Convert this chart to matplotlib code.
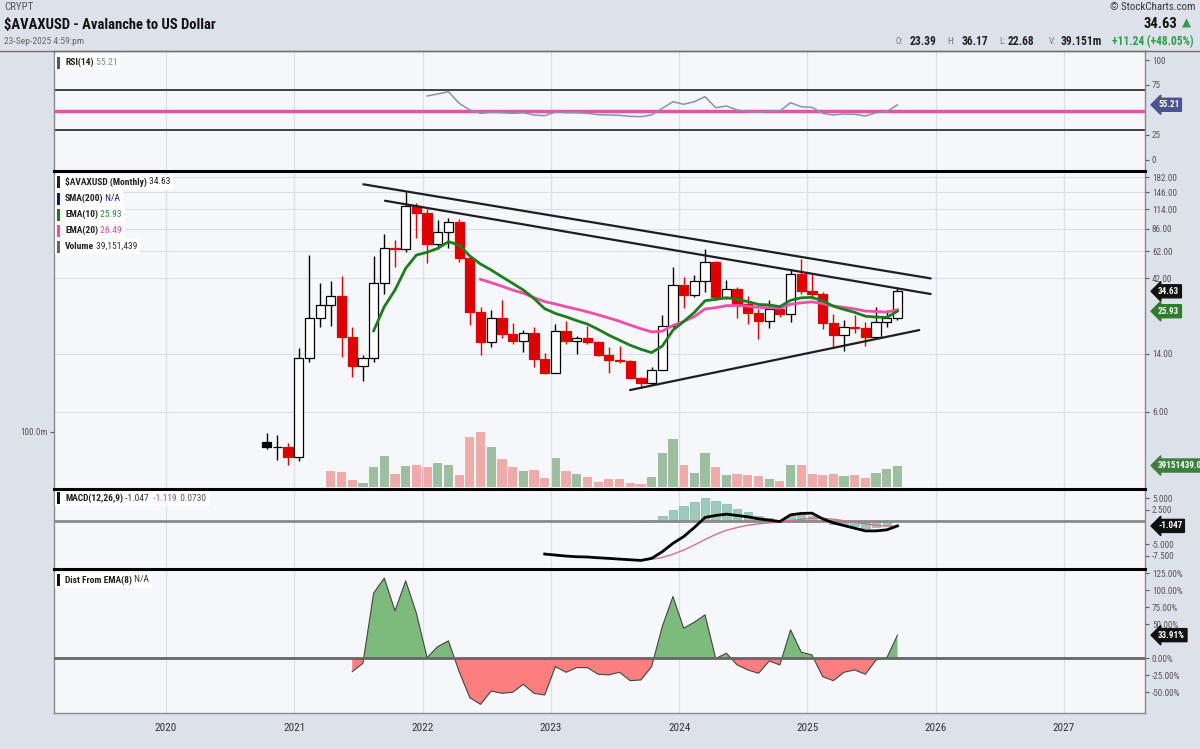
import numpy as np
import matplotlib
matplotlib.use('Agg')
import matplotlib.pyplot as plt
from matplotlib.patches import Rectangle
from matplotlib.lines import Line2D
from matplotlib.ticker import NullLocator
from matplotlib import font_manager
import matplotlib.transforms as mtransforms

# ---------------- data ----------------
start_year, start_month, n_months = 2020, 10, 60   # monthly bars Oct-2020 .. Sep-2025

opens = [3.88, 3.58, 3.60, 3.12, 13.2, 23.4, 28.4, 32.3, 17.7, 11.7,
         13.2, 38.9, 65.3, 63.8, 119.8, 107.7, 68.9, 82.5, 95.4, 55.9,
         25.7, 16.6, 23.4, 18.6, 16.9, 19.0, 12.9, 10.6, 19.5, 16.8,
         17.5, 16.6, 13.8, 12.7, 12.55, 9.75, 9.07, 11.1, 21.0, 37.9,
         32.8, 40.4, 53.3, 31.7, 35.6, 28.8, 25.4, 22.6, 26.7, 24.8,
         44.3, 35.0, 33.3, 21.7, 18.3, 20.5, 20.3, 17.7, 22.3, 23.39]
highs = [4.38, 4.27, 3.82, 15.1, 58.7, 38.9, 40.2, 43.3, 20.7, 13.7,
         57.9, 79.3, 73.1, 147.7, 124.6, 114.0, 97.7, 100.0, 99.0, 58.0,
         27.7, 26.4, 30.5, 21.7, 19.7, 20.5, 14.2, 21.5, 22.6, 18.1,
         21.0, 16.9, 15.5, 15.7, 12.8, 9.99, 11.55, 24.5, 49.5, 42.8,
         43.9, 63.8, 54.0, 40.8, 36.8, 32.3, 26.7, 30.5, 27.7, 47.7,
         55.1, 44.5, 34.4, 24.9, 22.8, 24.5, 22.3, 27.4, 26.4, 36.17]
lows = [3.50, 2.97, 2.76, 2.95, 12.4, 20.7, 20.9, 13.4, 10.0, 9.43,
        12.3, 33.3, 49.5, 61.0, 74.8, 52.0, 64.5, 64.7, 53.2, 21.2,
        13.7, 15.5, 17.5, 16.1, 14.4, 11.5, 10.4, 10.5, 16.2, 13.9,
        16.2, 13.6, 10.5, 12.2, 9.6, 8.43, 8.85, 11.0, 20.5, 27.0,
        31.7, 34.4, 30.5, 31.0, 23.4, 21.5, 17.2, 20.2, 23.9, 22.3,
        33.3, 31.0, 19.9, 15.3, 14.6, 18.8, 15.6, 17.2, 20.5, 22.68]
closes = [3.57, 3.60, 3.12, 13.2, 23.4, 28.4, 32.3, 17.7, 11.7, 13.2,
          38.9, 65.3, 63.8, 119.8, 107.7, 68.9, 82.5, 95.4, 55.9, 25.7,
          16.6, 23.4, 18.6, 16.9, 19.0, 12.9, 10.6, 19.5, 16.8, 17.5,
          16.6, 13.8, 12.7, 12.55, 9.75, 9.07, 11.1, 21.0, 37.9, 32.8,
          40.4, 53.3, 31.7, 35.6, 28.8, 25.4, 22.6, 26.7, 24.8, 44.3,
          35.0, 33.3, 21.7, 18.3, 20.5, 20.3, 17.7, 22.3, 23.39, 34.63]

# volume (millions), starts with bar 7 (Apr-2021)
volume_start = 6
volume_m = [29.3, 26.9, 13.1, 8.3, 35.9, 56.9, 24.5, 38.3, 39.5, 37.1,
            44.3, 40.1, 22.1, 91.1, 100.1, 71.9, 50.3, 35.9, 29.9, 31.1,
            16.1, 52.1, 29.3, 23.9, 19.1, 10.1, 14.9, 14.3, 7.1, 5.9,
            19.1, 61.1, 86.3, 40.1, 26.3, 61.1, 35.9, 22.1, 23.9, 22.1,
            20.3, 14.3, 12.0, 40.1, 40.1, 23.9, 22.1, 23.9, 20.3, 22.1,
            16.1, 26.3, 32.3, 39.15]
volume_up = [0, 0, 0, 1, 1, 1, 0, 1, 0, 0,
             1, 1, 0, 0, 0, 1, 0, 0, 1, 0,
             0, 1, 0, 1, 0, 0, 0, 0, 0, 0,
             1, 1, 1, 0, 1, 1, 0, 1, 0, 0,
             0, 1, 0, 1, 0, 0, 0, 0, 1, 0,
             0, 1, 1, 1]

ema10_start = 10
ema10 = [19.5, 27.7, 35.3, 48.4, 58.7, 61.1, 64.7, 71.3, 67.9, 57.9,
         51.5, 47.2, 42.8, 38.9, 35.3, 31.2, 26.9, 25.1, 23.9, 22.6,
         21.5, 19.9, 18.3, 17.0, 15.8, 14.9, 14.2, 15.6, 19.7, 22.3,
         25.5, 30.2, 30.8, 31.5, 30.9, 29.8, 28.6, 28.4, 27.7, 30.4,
         31.5, 31.7, 30.2, 27.9, 26.6, 25.5, 24.1, 23.8, 23.7, 25.93]
ema20_start = 20
ema20 = [41.2, 39.3, 37.3, 35.3, 33.7, 31.6, 29.8, 28.8, 27.7, 26.7,
         25.7, 24.6, 23.5, 22.4, 21.2, 20.1, 19.2, 19.4, 21.1, 22.3,
         24.0, 26.8, 27.3, 28.1, 28.2, 27.9, 27.4, 27.3, 27.1, 28.7,
         29.3, 29.7, 29.0, 28.0, 27.4, 26.8, 26.0, 25.8, 25.6, 26.49]

rsi_start = 15
rsi14 = [64.0, 66.0, 68.3, 56.7, 50.0, 46.7, 47.7, 47.3, 46.7, 47.3,
         45.0, 44.3, 48.0, 47.3, 47.3, 46.7, 45.3, 45.0, 44.7, 43.7,
         43.3, 45.0, 51.7, 58.3, 55.7, 58.3, 63.3, 52.3, 54.0, 50.0,
         48.3, 47.7, 49.0, 49.0, 57.3, 53.3, 52.7, 46.7, 45.0, 46.0,
         45.7, 44.0, 47.3, 48.3, 55.21]
rsi_mid_line = 48.5

macd_start = 26
macd_line = [-7.16, -7.38, -7.6, -7.75, -7.8, -7.97, -8.1, -8.26, -8.4, -8.55,
             -8.1, -6.65, -4.83, -3.37, -1.4, 0.79, 1.22, 1.51, 1.22, 0.93,
             0.49, 0.2, -0.1, 1.36, 1.66, 1.72, 0.49, -0.38, -0.97, -1.55,
             -2.13, -2.13, -1.9, -1.047]
signal_start = 35
macd_signal = [-8.4, -8.3, -7.9, -7.2, -6.3, -5.2, -4.0, -2.9, -2.0, -1.4,
               -0.9, -0.6, -0.4, -0.2, 0.1, 0.4, 0.6, 0.6, 0.4, 0.1,
               -0.3, -0.6, -0.9, -1.1, -1.119]
macd_hist = [-0.2, 0.3, 1.2, 2.4, 3.3, 4.1, 5.0, 4.3, 3.7, 2.7,
             1.9, 1.0, 0.6, 0.2, 1.2, 1.3, 1.0, 0.1, -0.6, -0.9,
             -1.1, -1.4, -1.2, -0.8, 0.07]

dist_start = 8
dist_ema8 = [-19.7, -7.4, 95.6, 117.6, 69.6, 113.7, 66.2, 0.9, 17.1, 25.4,
             -19.7, -57.9, -67.7, -48.1, -51.5, -50.0, -38.2, -51.5, -54.0, -12.3,
             -20.6, -13.8, -13.8, -23.5, -24.5, -20.6, -32.9, -31.9, -12.3, 46.5,
             90.6, 44.1, 52.9, 63.7, -0.5, 7.4, -9.8, -17.2, -22.1, -4.0,
             -9.8, 41.6, 8.8, 4.9, -27.0, -32.9, -20.6, -17.2, -23.5, -2.5,
             0.5, 33.91]

# user trendlines: (decimal year, price) endpoints
trend_lines = [((2021.538, 164.4), (2025.960, 41.8)),
               ((2021.707, 129.4), (2025.960, 33.3)),
               ((2023.617, 8.23), (2025.871, 19.7))]

price_ticks = [6, 14, 42, 62, 86, 114, 146, 182]
rsi_ticks = [0, 25, 75, 100]
macd_ticks = [5.0, 2.5, -5.0, -7.5]
dist_ticks = [125, 100, 75, 50, 0, -25, -50]
year_ticks = list(range(2020, 2028))

# ---------------- style ----------------
W, H = 1200, 749
BG = '#dde1e9'
PANEL = '#f6f7fb'
GRID = '#dcdfe7'
RED = '#e00000'

names = {f.name for f in font_manager.fontManager.ttflist}
COND = None
for cand in ['Roboto Condensed', 'Liberation Sans Narrow', 'Open Sans Condensed']:
    if cand in names:
        COND = cand
        break
if COND is None:
    COND = 'Roboto' if 'Roboto' in names else 'DejaVu Sans'
plt.rcParams['font.family'] = [COND, 'DejaVu Sans']

fig = plt.figure(figsize=(W / 100, H / 100), dpi=100, facecolor=BG)

def rect(top, bottom):
    return [54 / W, 1 - bottom / H, (1145 - 54) / W, (bottom - top) / H]

XMIN, XMAX = 2019.127, 2027.631

def xpos(idx):
    m = start_month - 1 + idx
    return start_year + m // 12 + (m % 12) / 12.0 + 0.035

xs = np.array([xpos(i) for i in range(n_months)])

ax_rsi = fig.add_axes(rect(51, 170.7))
ax_vol = fig.add_axes(rect(171, 489))
ax_p = fig.add_axes(rect(171, 489))
ax_macd = fig.add_axes(rect(489, 568.5))
ax_dist = fig.add_axes(rect(569, 713))
ax_vol.set_zorder(1)
ax_p.set_zorder(2)
ax_p.patch.set_visible(False)

for ax in [ax_rsi, ax_vol, ax_p, ax_macd, ax_dist]:
    ax.set_xlim(XMIN, XMAX)
    ax.set_facecolor(PANEL)
    for s in ax.spines.values():
        s.set_color('#8a8a8a')
        s.set_linewidth(1.0)
    ax.yaxis.tick_right()
    ax.tick_params(axis='y', labelsize=6.6, colors='#555555', length=3, width=0.8, pad=2)
    ax.set_xticks([])
for ax in [ax_rsi, ax_vol, ax_macd, ax_dist]:
    for yv in year_ticks:
        ax.axvline(yv, color=GRID, lw=0.8, zorder=0)

# ---------------- RSI ----------------
ax_rsi.set_ylim(-10.7, 109)
ax_rsi.set_yticks(rsi_ticks)
ax_rsi.set_yticklabels([str(t) for t in rsi_ticks])
ax_rsi.axhline(70, color='#333333', lw=1.3, zorder=2)
ax_rsi.axhline(30, color='#333333', lw=1.3, zorder=2)
ax_rsi.axhline(rsi_mid_line, color='#e2559f', lw=2.5, zorder=2)
ax_rsi.plot(xs[rsi_start:rsi_start + len(rsi14)], rsi14, color='#8890b5', lw=1.1, zorder=3)

# ---------------- price + volume ----------------
vx = xs[volume_start:volume_start + len(volume_m)]
vcols = ['#9dbfa0' if u else '#efaaaa' for u in volume_up]
ax_vol.bar(vx, volume_m, width=0.072, color=vcols, edgecolor='none', zorder=2)
ax_vol.set_ylim(-3.06, 568.9)
ax_vol.yaxis.tick_left()
ax_vol.set_yticks([100])
ax_vol.set_yticklabels(['100.0m'])
ax_vol.tick_params(axis='y', labelsize=6.6, colors='#555555', length=3, pad=2)
for s in ax_vol.spines.values():
    s.set_visible(False)

ax_p.set_yscale('log')
ax_p.set_ylim(1.95, 199.5)
ax_p.set_yticks(price_ticks)
ax_p.set_yticklabels(['%.2f' % t for t in price_ticks])
ax_p.yaxis.set_minor_locator(NullLocator())
ax_p.grid(axis='y', color=GRID, lw=0.8, zorder=0)
for yv in year_ticks:
    ax_p.axvline(yv, color=GRID, lw=0.8, zorder=0)

for i in range(n_months):
    o, h, l, c = opens[i], highs[i], lows[i], closes[i]
    col = 'black' if (i == 0 or c >= closes[i - 1]) else RED
    hollow = c > o
    ax_p.vlines(xs[i], l, h, color=col, lw=1.0, zorder=3)
    lo, hi = min(o, c), max(o, c)
    if hi / lo < 1.006:
        hi = lo * 1.006
    ax_p.bar(xs[i], hi - lo, bottom=lo, width=0.072,
             facecolor='white' if hollow else col, edgecolor=col, lw=0.9, zorder=4)

ax_p.plot(xs[ema20_start:ema20_start + len(ema20)], ema20, color='#ee4fa8', lw=2.0, zorder=5)
ax_p.plot(xs[ema10_start:ema10_start + len(ema10)], ema10, color='#1b7d1b', lw=2.0, zorder=6)
for (x0, p0), (x1, p1) in trend_lines:
    ax_p.plot([x0, x1], [p0, p1], color='#1e1e1e', lw=1.6, zorder=7, solid_capstyle='round')

# ---------------- MACD ----------------
ax_macd.set_ylim(-10.3, 6.97)
ax_macd.set_yticks(macd_ticks)
ax_macd.set_yticklabels(['%.3f' % t for t in macd_ticks])
ax_macd.bar(xs[signal_start:signal_start + len(macd_hist)], macd_hist, width=0.066,
            color='#9acbbb', edgecolor='#7db8a5', lw=0.5, zorder=2)
ax_macd.axhline(0, color='#8a8a8a', lw=2.0, zorder=3)
ax_macd.plot(xs[signal_start:signal_start + len(macd_signal)], macd_signal, color='#d66f8e', lw=1.0, zorder=4)
ax_macd.plot(xs[macd_start:macd_start + len(macd_line)], macd_line, color='black', lw=2.0, zorder=5)

# ---------------- Dist from EMA ----------------
dx = xs[dist_start:dist_start + len(dist_ema8)]
dv = np.array(dist_ema8)
ax_dist.set_ylim(-80.4, 131)
ax_dist.set_yticks(dist_ticks)
ax_dist.set_yticklabels(['%.2f%%' % t for t in dist_ticks])
ax_dist.fill_between(dx, dv, 0, where=dv >= 0, interpolate=True, color='#7dbb7d', lw=0, zorder=2)
ax_dist.fill_between(dx, dv, 0, where=dv <= 0, interpolate=True, color='#fd7e7e', lw=0, zorder=2)
ax_dist.plot(dx, dv, color='#444444', lw=0.8, zorder=3)
ax_dist.axhline(0, color='#666666', lw=2.0, zorder=4)
ax_dist.set_xticks(year_ticks)
ax_dist.set_xticklabels([str(y) for y in year_ticks])
ax_dist.tick_params(axis='x', length=0, pad=7, labelsize=8, colors='#333333')

# ---------------- panel borders ----------------
for ypx in [171, 489, 569]:
    fig.add_artist(Line2D([54 / W, 1145 / W], [1 - ypx / H] * 2, color='black', lw=2.2, zorder=3))
fig.add_artist(Line2D([0, 1], [1 - 50.5 / H] * 2, color='#6f6f6f', lw=1.0, zorder=3))

# ---------------- badges ----------------
def badge(ax, yval, text, fc, tc='white'):
    trans = mtransforms.blended_transform_factory(ax.transAxes, ax.transData)
    ax.text(1.012, yval, text, transform=trans, ha='left', va='center', fontsize=6.6,
            color=tc, fontweight='bold', clip_on=False, zorder=20,
            bbox=dict(boxstyle='larrow,pad=0.22', fc=fc, ec=fc))

badge(ax_rsi, rsi14[-1], '%.2f' % rsi14[-1], '#4d5390')
badge(ax_p, closes[-1], '%.2f' % closes[-1], '#111111')
badge(ax_p, ema10[-1], '%.2f' % ema10[-1], '#2d7d2d')
badge(ax_vol, volume_m[-1], '39151439.0', '#3d7f3d')
badge(ax_macd, macd_line[-1], '%.3f' % macd_line[-1], '#111111')
badge(ax_dist, dist_ema8[-1], '%.2f%%' % dist_ema8[-1], '#111111')

# ---------------- legends ----------------
renderer = fig.canvas.get_renderer()

def seq_text(x_px, y_px, parts, fs, family=None):
    cur = x_px
    for s, col, wt in parts:
        t = fig.text(cur / W, 1 - y_px / H, s, color=col, fontsize=fs, fontweight=wt,
                     va='center', ha='left', zorder=6,
                     family=family if family else [COND, 'DejaVu Sans'])
        bb = t.get_window_extent(renderer)
        cur = bb.x1
    return cur

def legend_line(y_px, parts, marker_color, fs=6.8):
    end = seq_text(65, y_px, parts, fs)
    fig.add_artist(Rectangle((55 / W, 1 - (y_px + 7.5) / H), (end + 3 - 55) / W, 15 / H,
                             transform=fig.transFigure, fc='white', ec='none', zorder=5))
    fig.add_artist(Rectangle((57 / W, 1 - (y_px + 6) / H), 3.2 / W, 12 / H,
                             transform=fig.transFigure, fc=marker_color, ec='none', zorder=6))

legend_line(62.5, [('RSI(14)', '#222222', 'bold'), (' 55.21', '#7a7fa6', 'normal')], '#4d5390')
legend_line(182, [('$AVAXUSD (Monthly)', '#222222', 'bold'), (' 34.63', '#222222', 'normal')], '#222222')
legend_line(198.5, [('SMA(200)', '#222222', 'bold'), (' N/A', '#1a1a8c', 'normal')], '#12128a')
legend_line(214.5, [('EMA(10)', '#222222', 'bold'), (' 25.93', '#2a8a2a', 'normal')], '#1b7d1b')
legend_line(230.5, [('EMA(20)', '#222222', 'bold'), (' 26.49', '#e6479e', 'normal')], '#ee4fa8')
legend_line(246.5, [('Volume', '#222222', 'bold'), (' 39,151,439', '#333333', 'normal')], '#666666')
legend_line(498.3, [('MACD(12,26,9)', '#222222', 'bold'), (' -1.047', '#333333', 'normal'),
                    ('  -1.119', '#c0406a', 'normal'), ('  0.0730', '#555555', 'normal')], '#111111')
legend_line(580, [('Dist From EMA(8)', '#222222', 'bold'), (' N/A', '#333333', 'normal')], '#111111')

# ---------------- header ----------------
fig.text(4 / W, 1 - 7.5 / H, 'CRYPT', fontsize=7.8, color='#555555', va='center', ha='left')
fig.text(4 / W, 1 - 25 / H, '$AVAXUSD - Avalanche to US Dollar', fontsize=10.5, fontweight='bold',
         color='#111111', va='center', ha='left')
fig.text(4 / W, 1 - 41.5 / H, '23-Sep-2025 4:59:pm', fontsize=6.8, color='#666666', va='center', ha='left')

fig.text(1195 / W, 1 - 7.5 / H, '\u00a9 StockCharts.com', fontsize=7.8, color='#333333',
         va='center', ha='right', family=[COND, 'DejaVu Sans'])
fig.text(1177 / W, 1 - 23.5 / H, '34.63', fontsize=10.5, fontweight='bold', color='#111111',
         va='center', ha='right')
fig.text(1182 / W, 1 - 23.5 / H, '\u25b2', fontsize=8.5, color='#2e9e4a', va='center', ha='left',
         family=['DejaVu Sans'])

hdr_parts = [(895, 'O:', '#777777', 'normal', 6.5), (910, '23.39', '#222222', 'bold', 8.3),
             (947, 'H:', '#777777', 'normal', 6.5), (962, '36.17', '#222222', 'bold', 8.3),
             (999, 'L:', '#777777', 'normal', 6.5), (1008, '22.68', '#222222', 'bold', 8.3),
             (1049, 'V:', '#777777', 'normal', 6.5), (1061, '39.151m', '#222222', 'bold', 8.3),
             (1112, '+11.24 (+48.05%)', '#2e9e4a', 'bold', 8.3)]
for xp, s, col, wt, fs in hdr_parts:
    fig.text(xp / W, 1 - 41.7 / H, s, fontsize=fs, fontweight=wt, color=col, va='center', ha='left')

fig.savefig('out.png', dpi=100, facecolor=BG)
